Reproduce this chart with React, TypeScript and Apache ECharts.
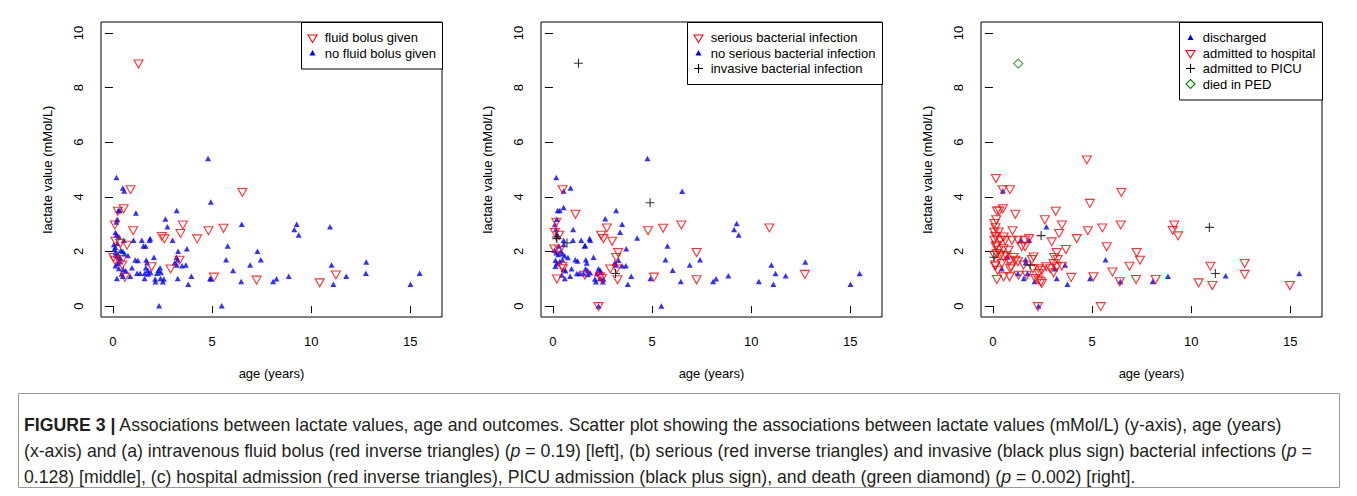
import React, { useEffect, useRef } from "react";
import * as echarts from "echarts";

// ---------- tick values ----------
const xTicks = [0, 5, 10, 15];
const yTicks = [0, 2, 4, 6, 8, 10];

// ---------- panel (a): fluid bolus ----------
const bolusGiven: number[][] = [
  [1.29, 8.86], [0.89, 4.26], [6.53, 4.16], [0.54, 3.56], [0.25, 3.47], [0.1, 2.97], [3.53, 2.97],
  [5.58, 2.85], [1.02, 2.76], [4.82, 2.76], [3.41, 2.66], [2.47, 2.55], [2.6, 2.46], [4.25, 2.46],
  [0.13, 2.37], [0.37, 2.29], [0.71, 2.23], [0.03, 1.78], [0.1, 1.68], [0.47, 1.7], [3.36, 1.68],
  [1.95, 1.44], [2.91, 1.36], [0.6, 1.05], [5.1, 1.06], [7.25, 0.95], [10.43, 0.85], [11.25, 1.14],
  [0.47, 1.5],
];
const noBolus: number[][] = [
  [4.8, 5.4], [0.18, 4.71], [0.5, 4.32], [0.57, 4.21], [4.94, 3.81], [0.27, 3.5], [0.35, 3.5],
  [1.16, 3.41], [3.22, 3.5], [0.22, 3.18], [0.17, 3.08], [2.65, 3.19], [2.75, 2.9], [6.5, 3.0],
  [9.27, 3.0], [9.15, 2.8], [9.37, 2.6], [10.95, 2.9], [0.13, 2.69], [0.18, 2.59], [0.3, 2.55],
  [0.55, 2.41], [1.04, 2.41], [1.46, 2.41], [1.88, 2.47], [1.85, 2.41], [1.54, 2.2], [1.65, 2.2],
  [3.01, 2.41], [5.79, 2.2], [3.73, 2.1], [3.29, 2.01], [7.29, 2.01], [0.08, 2.08], [0.13, 1.96],
  [0.25, 1.92], [0.4, 2.04], [0.5, 2.01], [0.59, 1.92], [0.76, 1.85], [2.07, 1.79], [1.13, 1.69],
  [1.26, 1.67], [1.68, 1.69], [1.73, 1.59], [3.21, 1.79], [3.27, 1.7], [3.12, 1.59], [3.22, 1.5],
  [3.49, 1.48], [3.68, 1.5], [5.71, 1.7], [7.46, 1.7], [6.92, 1.5], [12.78, 1.61], [11.03, 1.5],
  [0.13, 1.48], [0.24, 1.56], [0.35, 1.62], [0.96, 1.4], [0.52, 1.34], [0.65, 1.29], [1.66, 1.4],
  [1.76, 1.31], [2.38, 1.4], [2.3, 1.31], [6.06, 1.3], [1.22, 1.2], [1.37, 1.2], [1.61, 1.2],
  [1.78, 1.17], [1.9, 1.23], [2.23, 1.2], [2.42, 1.23], [0.44, 1.17], [0.87, 1.09], [3.96, 1.09],
  [8.87, 1.09], [11.77, 1.09], [12.76, 1.2], [15.47, 1.2], [0.2, 1.01], [0.5, 1.09], [1.6, 1.01],
  [2.13, 0.99], [2.15, 0.89], [2.4, 1.01], [2.52, 0.89], [2.57, 0.99], [3.27, 1.01], [4.9, 1.01],
  [4.95, 0.99], [6.47, 0.9], [8.08, 0.9], [8.25, 1.0], [3.8, 0.8], [11.12, 0.8], [15.01, 0.8],
  [2.33, 0.01], [5.49, 0.01], [0.05, 2.25], [0.12, 2.15], [0.22, 2.3], [0.28, 1.8], [0.38, 1.75],
  [0.15, 1.85], [0.3, 1.38],
];

// ---------- panel (b): bacterial infections ----------
const seriousInfection: number[][] = [
  [0.49, 4.26], [1.14, 3.36], [0.17, 3.07], [0.1, 2.69], [0.32, 2.59], [2.72, 2.86], [2.43, 2.59],
  [2.55, 2.47], [2.99, 2.37], [4.8, 2.76], [5.56, 2.85], [6.48, 2.97], [10.92, 2.86], [0.07, 2.09],
  [0.34, 2.04], [3.29, 1.96], [7.25, 1.96], [3.19, 1.78], [0.47, 1.46], [0.5, 1.37], [2.89, 1.36],
  [3.22, 1.36], [1.61, 1.13], [2.37, 1.07], [2.47, 1.01], [3.26, 0.96], [0.2, 0.99], [5.1, 1.06],
  [7.25, 0.96], [12.71, 1.16], [2.3, -0.02],
];
const noSeriousInfection: number[][] = [
  [4.77, 5.4], [0.17, 4.71], [0.89, 4.32], [0.54, 4.21], [6.52, 4.2], [0.24, 3.5], [0.35, 3.5],
  [0.54, 3.61], [3.19, 3.5], [0.2, 3.18], [0.1, 2.99], [2.64, 3.2], [3.49, 3.0], [3.39, 2.7],
  [1.02, 2.8], [9.27, 3.02], [9.14, 2.8], [9.37, 2.6], [4.25, 2.49], [1.43, 2.41], [1.85, 2.47],
  [1.88, 2.41], [1.6, 2.2], [1.01, 2.41], [0.54, 2.41], [5.78, 2.2], [3.7, 2.1], [3.31, 1.68],
  [7.42, 1.7], [5.68, 1.7], [6.9, 1.5], [6.04, 1.31], [12.73, 1.61], [11.02, 1.5], [11.23, 1.19],
  [10.39, 0.9], [11.74, 1.11], [8.85, 1.11], [15.47, 1.19], [15.01, 0.8], [11.12, 0.8], [8.08, 0.9],
  [8.23, 1.0], [6.45, 0.9], [4.92, 1.01], [3.78, 0.8], [3.95, 1.09], [5.47, 0.0], [2.3, 0.0],
  [0.08, 2.04], [0.17, 1.95], [0.27, 1.89], [0.4, 2.02], [0.47, 1.92], [0.59, 1.84], [0.76, 1.78],
  [0.13, 1.68], [0.2, 1.56], [0.34, 1.62], [0.47, 1.7], [0.13, 1.46], [0.54, 1.34], [0.64, 1.29],
  [0.94, 1.37], [0.44, 1.14], [0.87, 1.09], [0.6, 1.01], [1.13, 1.7], [1.24, 1.65], [1.66, 1.7],
  [1.71, 1.58], [2.05, 1.79], [1.65, 1.37], [1.75, 1.29], [2.3, 1.37], [2.38, 1.31], [1.21, 1.19],
  [1.34, 1.19], [1.54, 1.19], [1.76, 1.16], [1.88, 1.22], [2.22, 1.19], [2.42, 1.23], [2.12, 0.99],
  [2.17, 0.89], [2.38, 1.01], [2.52, 0.89], [2.55, 0.99], [3.12, 1.59], [3.19, 1.5], [3.49, 1.48],
  [3.68, 1.48], [0.15, 2.8], [0.22, 2.62], [0.55, 2.25], [0.3, 2.2], [1.63, 2.22],
];
const invasiveInfection: number[][] = [
  [1.29, 8.89], [4.9, 3.78], [0.17, 2.53], [0.2, 2.47], [0.71, 2.31], [3.16, 1.19],
];

// ---------- panel (c): outcomes ----------
const discharged: number[][] = [
  [0.5, 4.21], [2.7, 2.9], [1.39, 2.41], [1.83, 2.41], [0.74, 1.8], [1.65, 1.7], [1.66, 1.59],
  [5.68, 1.7], [3.64, 1.5], [3.12, 1.37], [0.45, 1.37], [1.26, 1.19], [1.75, 1.19], [1.56, 1.01],
  [2.1, 0.9], [3.22, 1.01], [3.76, 0.8], [4.9, 1.01], [6.43, 0.9], [8.06, 0.9], [8.83, 1.09],
  [11.74, 1.11], [15.45, 1.19], [2.3, 0.0],
];
const admittedHospital: number[][] = [
  [4.74, 5.35], [0.15, 4.67], [0.49, 4.26], [0.86, 4.26], [6.48, 4.16], [4.89, 3.76], [0.2, 3.48],
  [0.32, 3.48], [0.5, 3.56], [1.13, 3.36], [3.17, 3.47], [0.17, 3.16], [0.08, 3.02], [0.13, 2.87],
  [2.62, 3.16], [3.48, 2.97], [6.45, 2.97], [9.15, 2.97], [9.07, 2.77], [9.34, 2.57], [0.99, 2.76],
  [3.34, 2.66], [4.79, 2.76], [5.52, 2.86], [0.07, 2.7], [0.29, 2.71], [0.13, 2.55], [0.07, 2.41],
  [0.37, 2.41], [0.62, 2.41], [0.96, 2.41], [1.26, 2.41], [1.6, 2.41], [1.82, 2.47], [2.97, 2.35],
  [4.23, 2.47], [1.46, 2.17], [1.63, 2.17], [5.74, 2.17], [3.68, 2.07], [7.25, 1.96], [7.42, 1.68],
  [3.22, 1.96], [6.03, 1.25], [6.89, 1.46], [7.22, 0.97], [8.21, 0.97], [6.4, 0.89], [10.38, 0.85],
  [10.97, 1.46], [11.07, 0.75], [12.7, 1.56], [12.7, 1.16], [14.98, 0.75], [3.95, 1.05], [5.07, 1.07],
  [2.27, -0.02], [5.44, -0.02], [0.15, 2.17], [0.29, 2.04], [0.54, 2.1], [0.79, 2.04], [0.2, 1.92],
  [0.37, 1.86], [0.54, 1.8], [0.67, 1.84], [0.84, 1.65], [1.04, 1.78], [0.12, 1.46], [0.24, 1.31],
  [0.87, 1.37], [1.13, 1.68], [1.26, 1.62], [1.96, 1.7], [2.02, 1.37], [2.3, 1.37], [2.47, 1.31],
  [2.89, 1.37], [3.06, 1.22], [3.09, 1.78], [3.26, 1.7], [3.06, 1.56], [3.22, 1.44], [3.48, 1.46],
  [0.2, 0.97], [0.54, 1.07], [0.84, 1.07], [1.29, 1.13], [1.71, 1.13], [2.13, 1.01], [2.3, 0.95],
  [2.42, 0.89], [2.47, 0.83], [0.17, 2.23], [0.54, 2.53], [0.07, 1.86], [0.12, 1.5], [0.45, 1.56],
  [0.92, 1.44], [1.54, 1.5], [2.05, 1.8], [2.3, 1.19], [2.69, 1.44],
];
const admittedPICU: number[][] = [
  [2.43, 2.58], [0.05, 1.79], [1.88, 1.5], [10.92, 2.88], [11.22, 1.19],
];
const diedPED: number[][] = [[1.28, 8.88]];

// ---------- texts ----------
const xTitle = "age (years)";
const yTitle = "lactate value (mMol/L)";
const legend1 = ["fluid bolus given", "no fluid bolus given"];
const legend2 = ["serious bacterial infection", "no serious bacterial infection", "invasive bacterial infection"];
const legend3 = ["discharged", "admitted to hospital", "admitted to PICU", "died in PED"];
const captionLines = [
  "{b|FIGURE 3 |} Associations between lactate values, age and outcomes. Scatter plot showing the associations between lactate values (mMol/L) (y-axis), age (years)",
  "(x-axis) and (a) intravenous fluid bolus (red inverse triangles) ({i|p} = 0.19) [left], (b) serious (red inverse triangles) and invasive (black plus sign) bacterial infections ({i|p} =",
  "0.128) [middle], (c) hospital admission (red inverse triangles), PICU admission (black plus sign), and death (green diamond) ({i|p} = 0.002) [right].",
];

// ---------- layout ----------
const FONT = "'Liberation Sans', Arial, Helvetica, sans-serif";
const gridLefts = [101, 541, 981];
const GRID_TOP = 22;
const GRID_W = 341;
const GRID_H = 295;

const SYM_INV_TRI = "path://M0,0L10,0L5,8.66Z";
const SYM_PLUS = "path://M5,0L5,10M0,5L10,5";
const RED = "#ff0000";
const BLUE = "#0000ff";
const GREEN = "#008a00";

type Kind = "red" | "blue" | "plus" | "diamond";

function series(name: string, data: number[][], idx: number, kind: Kind) {
  const base: any = {
    type: "scatter",
    name,
    data,
    xAxisIndex: idx,
    yAxisIndex: idx,
    emphasis: { disabled: true },
    silent: true,
  };
  if (kind === "red") {
    return { ...base, symbol: SYM_INV_TRI, symbolSize: [9, 8],
      itemStyle: { color: "rgba(0,0,0,0)", borderColor: RED, borderWidth: 1.1 }, z: 3 };
  }
  if (kind === "blue") {
    return { ...base, symbol: "triangle", symbolSize: [6, 5.5],
      itemStyle: { color: BLUE, borderWidth: 0 }, z: 2 };
  }
  if (kind === "plus") {
    return { ...base, symbol: SYM_PLUS, symbolSize: 9,
      itemStyle: { color: "rgba(0,0,0,0)", borderColor: "#000", borderWidth: 1.1 }, z: 4 };
  }
  return { ...base, symbol: "diamond", symbolSize: 9,
    itemStyle: { color: "rgba(0,0,0,0)", borderColor: GREEN, borderWidth: 1.1 }, z: 4 };
}

function legendSymbol(kind: Kind, cx: number, cy: number): any {
  if (kind === "red") {
    return { type: "polygon", z: 101, shape: { points: [[cx - 4.5, cy - 2.5], [cx + 4.5, cy - 2.5], [cx, cy + 5]] },
      style: { fill: "none", stroke: RED, lineWidth: 1.1 } };
  }
  if (kind === "blue") {
    return { type: "polygon", z: 101, shape: { points: [[cx - 3, cy + 2.5], [cx + 3, cy + 2.5], [cx, cy - 3]] },
      style: { fill: BLUE } };
  }
  if (kind === "plus") {
    return { type: "group", z: 101, children: [
      { type: "line", z: 101, shape: { x1: cx - 4.5, y1: cy, x2: cx + 4.5, y2: cy }, style: { stroke: "#000", lineWidth: 1.1 } },
      { type: "line", z: 101, shape: { x1: cx, y1: cy - 4.5, x2: cx, y2: cy + 4.5 }, style: { stroke: "#000", lineWidth: 1.1 } },
    ] };
  }
  return { type: "polygon", z: 101, shape: { points: [[cx, cy - 4.5], [cx + 4.5, cy], [cx, cy + 4.5], [cx - 4.5, cy]] },
    style: { fill: "none", stroke: GREEN, lineWidth: 1.1 } };
}

function legendBox(left: number, right: number, labels: string[], kinds: Kind[]): any[] {
  const step = 15.5;
  const h = step * (labels.length + 1);
  const els: any[] = [
    { type: "rect", z: 100, shape: { x: left + 0.5, y: GRID_TOP + 0.5, width: right - left, height: h },
      style: { fill: "#fff", stroke: "#000", lineWidth: 1 } },
  ];
  labels.forEach((lab, i) => {
    const cy = GRID_TOP + step * (i + 1);
    els.push(legendSymbol(kinds[i], left + 11.5, cy));
    els.push({ type: "text", z: 101, x: left + 23.7, y: cy,
      style: { text: lab, fontSize: 13, fontFamily: FONT, fill: "#000", align: "left", verticalAlign: "middle" } });
  });
  return els;
}

export default function App() {
  const ref = useRef<HTMLDivElement>(null);
  useEffect(() => {
    if (!ref.current) return;
    const chart = echarts.init(ref.current, undefined, { renderer: "svg" });

    const labelStyle = { color: "#000", fontSize: 13, fontFamily: FONT };
    const grids = gridLefts.map((l) => ({
      left: l, top: GRID_TOP, width: GRID_W, height: GRID_H,
      show: true, borderColor: "#000", borderWidth: 1, backgroundColor: "transparent",
    }));
    const xAxes = gridLefts.map((_, i) => ({
      type: "value", gridIndex: i, min: -0.6, max: 16.6,
      axisLine: { show: false }, splitLine: { show: false },
      axisTick: { show: true, length: 7, customValues: xTicks, lineStyle: { color: "#000", width: 1 } },
      axisLabel: { customValues: xTicks, margin: 18, ...labelStyle },
      name: xTitle, nameLocation: "middle", nameGap: 49.5, nameTextStyle: labelStyle,
    }));
    const yAxes = gridLefts.map((_, i) => ({
      type: "value", gridIndex: i, min: -0.4, max: 10.4,
      axisLine: { show: false }, splitLine: { show: false },
      axisTick: { show: true, length: 8, customValues: yTicks, lineStyle: { color: "#000", width: 1 } },
      axisLabel: { customValues: yTicks, margin: 16.5, rotate: 90, ...labelStyle },
      name: yTitle, nameLocation: "middle", nameGap: 47.5, nameRotate: 90, nameTextStyle: labelStyle,
    }));

    const seriesList = [
      series(legend1[1], noBolus, 0, "blue"),
      series(legend1[0], bolusGiven, 0, "red"),
      series(legend2[1], noSeriousInfection, 1, "blue"),
      series(legend2[0], seriousInfection, 1, "red"),
      series(legend2[2], invasiveInfection, 1, "plus"),
      series(legend3[1], admittedHospital, 2, "red"),
      series(legend3[0], discharged, 2, "blue"),
      series(legend3[2], admittedPICU, 2, "plus"),
      series(legend3[3], diedPED, 2, "diamond"),
    ];

    const capFont = 17.7;
    const capFill = "#231f20";
    const graphics: any[] = [
      ...legendBox(301, 442, legend1, ["red", "blue"]),
      ...legendBox(687, 882, legend2, ["red", "blue", "plus"]),
      ...legendBox(1179, 1322, legend3, ["blue", "red", "plus", "diamond"]),
      { type: "rect", z: 50, shape: { x: 18.5, y: 393.5, width: 1321, height: 94 },
        style: { fill: "none", stroke: "#9a9a9a", lineWidth: 1 } },
      ...captionLines.map((t, i) => ({
        type: "text", z: 51, x: 24, y: 425 + i * 26,
        style: {
          text: t, fontSize: capFont, fontFamily: FONT, fill: capFill, align: "left", verticalAlign: "middle",
          rich: {
            b: { fontSize: capFont, fontFamily: FONT, fontWeight: "bold", fill: capFill },
            i: { fontSize: capFont, fontFamily: FONT, fontStyle: "italic", fill: capFill },
          },
        },
      })),
    ];

    chart.setOption({
      animation: false,
      backgroundColor: "#fff",
      grid: grids,
      xAxis: xAxes,
      yAxis: yAxes,
      series: seriesList,
      graphic: graphics,
    });
    return () => chart.dispose();
  }, []);

  return (
    <div
      ref={ref}
      style={{ position: "fixed", left: 0, top: 0, width: 1357, height: 496, background: "#fff" }}
    />
  );
}
